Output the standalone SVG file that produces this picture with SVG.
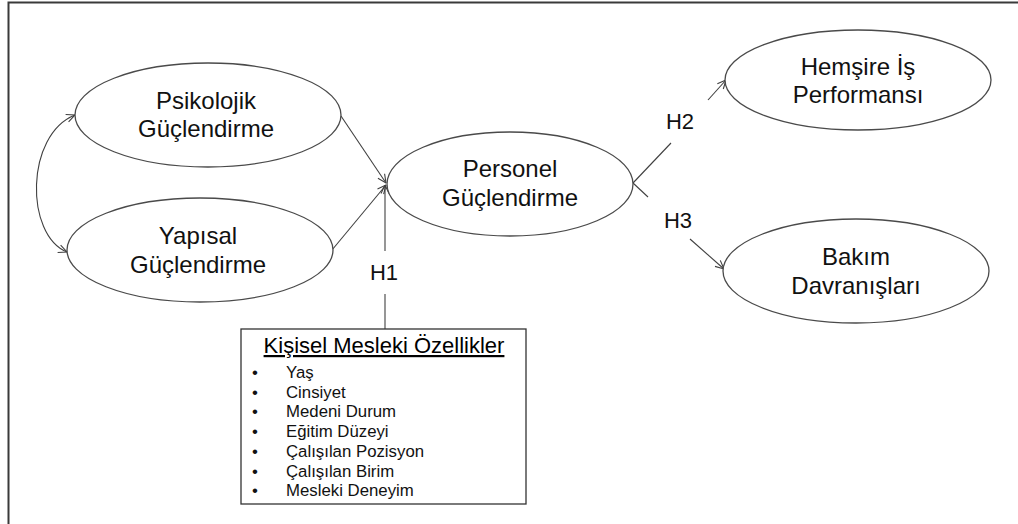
<svg xmlns="http://www.w3.org/2000/svg" width="1018" height="524" viewBox="0 0 1018 524">
<style>
.frame{fill:none;stroke:#3a3a3a;stroke-width:2}
.node ellipse{fill:#fff;stroke:#4a4a4a;stroke-width:1.3}
.lbl{font-family:"Liberation Sans",Arial,sans-serif;font-size:24px;fill:#111;text-anchor:middle}
.hl{font-family:"Liberation Sans",Arial,sans-serif;font-size:22px;fill:#111;text-anchor:middle}
.conn{fill:none;stroke:#404040;stroke-width:1.1}
.box{fill:#fff;stroke:#333;stroke-width:1.3}
.title{font-family:"Liberation Sans",Arial,sans-serif;font-size:22px;fill:#000;text-anchor:middle;text-decoration:underline}
.item{font-family:"Liberation Sans",Arial,sans-serif;font-size:16.8px;fill:#111}
</style>
<defs>
<marker id="arr" viewBox="0 0 10 10" refX="9.5" refY="5" markerWidth="10" markerHeight="10" markerUnits="userSpaceOnUse" orient="auto-start-reverse">
<path d="M1,1 L9.5,5 L1,9" fill="none" stroke="#404040" stroke-width="1.1"/>
</marker>
</defs>
<rect width="1018" height="524" fill="#fff"/>
<rect class="frame" x="8.5" y="2.5" width="1030" height="540"/>
<g id="connectors">
<path class="conn" d="M75,115 C25,135 25,235 67,252" marker-start="url(#arr)" marker-end="url(#arr)"/>
<line class="conn" x1="341" y1="116" x2="386" y2="183" marker-end="url(#arr)"/>
<line class="conn" x1="332" y1="250" x2="386" y2="185" marker-end="url(#arr)"/>
<line class="conn" x1="385" y1="251" x2="385" y2="185" marker-end="url(#arr)"/>
<line class="conn" x1="385" y1="294" x2="385" y2="329"/>
<line class="conn" x1="633" y1="183" x2="671" y2="143"/>
<line class="conn" x1="708" y1="100" x2="726" y2="80" marker-end="url(#arr)"/>
<line class="conn" x1="633" y1="183" x2="648" y2="197"/>
<line class="conn" x1="690" y1="239" x2="724" y2="269" marker-end="url(#arr)"/>
<text class="hl" x="384" y="280">H1</text>
<text class="hl" x="680" y="129">H2</text>
<text class="hl" x="678" y="228">H3</text>
</g>
<g id="psikolojik" class="node">
<ellipse cx="208" cy="115" rx="133" ry="52"/>
<text class="lbl" x="206" y="109">Psikolojik</text>
<text class="lbl" x="206" y="137">Güçlendirme</text>
</g>
<g id="yapisal" class="node">
<ellipse cx="200" cy="250" rx="133" ry="52"/>
<text class="lbl" x="198" y="244">Yapısal</text>
<text class="lbl" x="198" y="272.5">Güçlendirme</text>
</g>
<g id="personel" class="node">
<ellipse cx="510" cy="184" rx="123" ry="52"/>
<text class="lbl" x="510" y="177">Personel</text>
<text class="lbl" x="510" y="205.5">Güçlendirme</text>
</g>
<g id="hemsire" class="node">
<ellipse cx="858" cy="80" rx="133" ry="50"/>
<text class="lbl" x="858" y="75">Hemşire İş</text>
<text class="lbl" x="858" y="103">Performansı</text>
</g>
<g id="bakim" class="node">
<ellipse cx="856" cy="271" rx="133" ry="52"/>
<text class="lbl" x="856" y="265">Bakım</text>
<text class="lbl" x="856" y="294">Davranışları</text>
</g>
<g id="ozellikler">
<rect class="box" x="241" y="329" width="285" height="175"/>
<text class="title" x="384" y="353">Kişisel Mesleki Özellikler</text>
<g class="item">
<text x="252" y="378">•</text><text x="286" y="378">Yaş</text>
<text x="252" y="397.7">•</text><text x="286" y="397.7">Cinsiyet</text>
<text x="252" y="417.4">•</text><text x="286" y="417.4">Medeni Durum</text>
<text x="252" y="437">•</text><text x="286" y="437">Eğitim Düzeyi</text>
<text x="252" y="456.8">•</text><text x="286" y="456.8">Çalışılan Pozisyon</text>
<text x="252" y="476.5">•</text><text x="286" y="476.5">Çalışılan Birim</text>
<text x="252" y="496.2">•</text><text x="286" y="496.2">Mesleki Deneyim</text>
</g>
</g>
</svg>
